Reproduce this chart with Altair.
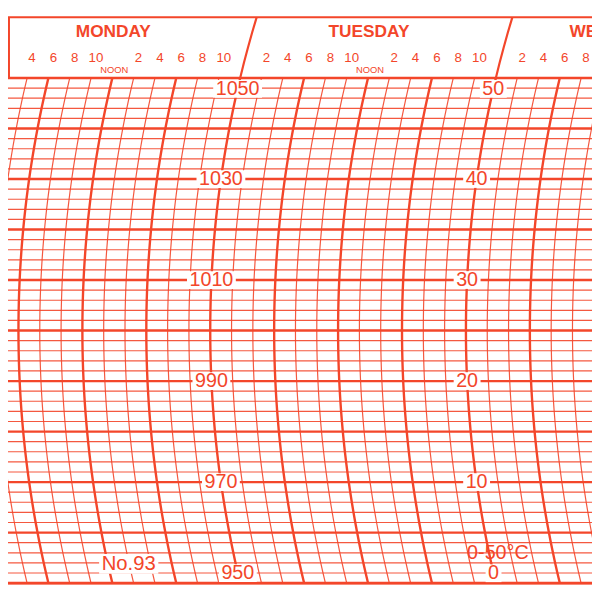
import altair as alt
import pandas as pd

# ---------------- chart values ----------------
hour_lines = [4, 6, 8, 10, 12, 14, 16, 18, 20, 22, 24, 26, 28, 30, 32, 34, 36, 38,
              40, 42, 44, 46, 48, 50, 52, 54, 56, 58]          # hours from Monday 00:00
pressure_lines = list(range(950, 1052, 2))                        # hPa grid, every 2 hPa
midnights = [24, 48]
noons = [12, 36, 60]
day_names = ["MONDAY", "TUESDAY", "WEDNESDAY"]
header_hours = [4, 6, 8, 10, 14, 16, 18, 20, 22,
                26, 28, 30, 32, 34, 38, 40, 42, 44, 46,
                50, 52, 54, 56]
header_hour_text = [str(h % 12) for h in header_hours]
pressure_labels = [1050, 1030, 1010, 990, 970, 950]
temp_labels = [50, 40, 30, 20, 10, 0]
chart_no = "No.93"
temp_range = "0-50°C"

# ---------------- geometry / style ----------------
RED = "#f3462a"
PX_H = 10.8      # px per hour
PX_P = 5.12      # px per hPa
R = 1095.0       # pen-arc radius, px
W, H = 592, 580
TOP_PX = 67      # svg y of the 1050 line
T0 = 5.0185
XS = alt.Scale(domain=[T0, T0 + W / PX_H], nice=False, zero=False)
YS = alt.Scale(domain=[1050 - (H - TOP_PX) / PX_P, 1050 + TOP_PX / PX_P], nice=False, zero=False)
HEADER_TOP = 1050 + 61.5 / PX_P
HOUR_ROW = 1050 + 20 / PX_P
NOON_ROW = 1050 + 8 / PX_P
DAY_ROW = 1050 + 46.5 / PX_P


def arc(p):
    return f"(({R} - sqrt({R * R} - pow(({p} - 1000) * {PX_P}, 2))) / {PX_H})"


X = lambda f: alt.X(f, scale=XS, axis=None)
Y = lambda f: alt.Y(f, scale=YS, axis=None)

# ---------------- data frames ----------------
vdf = pd.DataFrame([{"t": t, "p": p} for t in hour_lines for p in pressure_lines])
hdf = pd.DataFrame({"p": pressure_lines})
div_df = pd.DataFrame([{"t": t, "p": p} for t in midnights
                       for p in [1050, 1053, 1056, 1059, HEADER_TOP]])
lab_df = pd.DataFrame(
    [{"label": str(v), "p": v, "t": 24} for v in pressure_labels]
    + [{"label": str(v), "p": 950 + 2 * v, "t": 48} for v in temp_labels]
)
hh_df = pd.DataFrame({"t": header_hours, "label": header_hour_text})
noon_df = pd.DataFrame({"t": noons, "label": ["NOON"] * len(noons)})
day_df = pd.DataFrame({"t": noons, "label": day_names})

# ---------------- layers ----------------
h_thin = alt.Chart(hdf).transform_filter("datum.p % 10 != 0").mark_rule(
    color=RED, strokeWidth=1.2, opacity=0.9).encode(y=Y("p:Q"))
h_thick = alt.Chart(hdf).transform_filter("datum.p % 10 == 0").mark_rule(
    color=RED, strokeWidth=2.4).encode(y=Y("p:Q"))

v_base = alt.Chart(vdf).transform_calculate(x=f"datum.t + {arc('datum.p')}")
v_thin = v_base.transform_filter("datum.t % 6 != 0").mark_line(
    color=RED, strokeWidth=1.2, opacity=0.9, clip=True).encode(
    x=X("x:Q"), y=Y("p:Q"), detail="t:N", order="p:Q")
v_thick = v_base.transform_filter("datum.t % 6 == 0").mark_line(
    color=RED, strokeWidth=2.4, clip=True).encode(
    x=X("x:Q"), y=Y("p:Q"), detail="t:N", order="p:Q")

dividers = alt.Chart(div_df).transform_calculate(x=f"datum.t + {arc('datum.p')}").mark_line(
    color=RED, strokeWidth=2.2, clip=True).encode(
    x=X("x:Q"), y=Y("p:Q"), detail="t:N", order="p:Q")

header_top = alt.Chart(pd.DataFrame({"p": [HEADER_TOP]})).mark_rule(
    color=RED, strokeWidth=2).encode(y=Y("p:Q"))
left_border = alt.Chart(pd.DataFrame({"p": [1050], "p2": [HEADER_TOP]})).mark_rule(
    color=RED, strokeWidth=2).encode(x=alt.value(1), y=Y("p:Q"), y2="p2:Q")
bottom_line = alt.Chart(pd.DataFrame({"p": [950]})).mark_rule(
    color=RED, strokeWidth=2.6).encode(y=Y("p:Q"))

lab_base = alt.Chart(lab_df).transform_calculate(
    py="clamp(datum.p, 951.95, 1047.85)").transform_calculate(
    x=f"datum.t + {arc('datum.py')}",
    hw=f"(length(datum.label) * 5.56 + 2.5) / {PX_H}",
).transform_calculate(
    x1="datum.x - datum.hw", x2="datum.x + datum.hw",
    y1=f"datum.py - 9 / {PX_P}", y2=f"datum.py + 9 / {PX_P}")
lab_bg = lab_base.mark_rect(color="white").encode(
    x=X("x1:Q"), x2="x2:Q", y=Y("y1:Q"), y2="y2:Q")
lab_txt = lab_base.mark_text(
    color=RED, font="Liberation Sans", fontSize=20, baseline="middle", align="center").encode(
    x=X("x:Q"), y=Y("py:Q"), text="label:N")

no_df = pd.DataFrame({"label": [chart_no], "t": [16.35], "p": [953.8]})
no_base = alt.Chart(no_df).transform_calculate(
    x1=f"datum.t - 30 / {PX_H}", x2=f"datum.t + 30 / {PX_H}",
    y1=f"datum.p - 10 / {PX_P}", y2=f"datum.p + 10 / {PX_P}")
no_bg = no_base.mark_rect(color="white").encode(x=X("x1:Q"), x2="x2:Q", y=Y("y1:Q"), y2="y2:Q")
no_txt = no_base.mark_text(color=RED, font="Liberation Sans", fontSize=20.5,
                           baseline="middle", align="center").encode(
    x=X("t:Q"), y=Y("p:Q"), text="label:N")

tr_df = pd.DataFrame({"label": [temp_range], "t": [51.0], "p": [955.9]})
tr_txt = alt.Chart(tr_df).mark_text(color=RED, font="Liberation Sans", fontSize=20,
                                    baseline="middle", align="center").encode(
    x=X("t:Q"), y=Y("p:Q"), text="label:N")

hh_txt = alt.Chart(hh_df).transform_calculate(
    x=f"datum.t + {arc(HOUR_ROW)}", p=f"{HOUR_ROW}").mark_text(
    color=RED, font="Liberation Sans", fontSize=13.5, baseline="middle", align="center").encode(
    x=X("x:Q"), y=Y("p:Q"), text="label:N")
noon_txt = alt.Chart(noon_df).transform_calculate(
    x=f"datum.t + {arc(NOON_ROW)}", p=f"{NOON_ROW}").mark_text(
    color=RED, font="Liberation Sans", fontSize=9.5, baseline="middle", align="center").encode(
    x=X("x:Q"), y=Y("p:Q"), text="label:N")
day_txt = alt.Chart(day_df).transform_calculate(
    x=f"datum.t + {arc(HOUR_ROW)}", p=f"{DAY_ROW}").mark_text(
    color=RED, font="Liberation Sans", fontSize=17.5, fontWeight="bold",
    baseline="middle", align="center", dx=-4).encode(
    x=X("x:Q"), y=Y("p:Q"), text="label:N")

chart = alt.layer(
    h_thin, v_thin, h_thick, v_thick, bottom_line, dividers, header_top, left_border,
    lab_bg, lab_txt, no_bg, no_txt, tr_txt, hh_txt, noon_txt, day_txt,
).properties(
    width=W, height=H, padding=0, autosize="none", background="white"
).configure_view(stroke=None)

chart.save("out.html", embed_options={"renderer": "svg", "actions": False})
